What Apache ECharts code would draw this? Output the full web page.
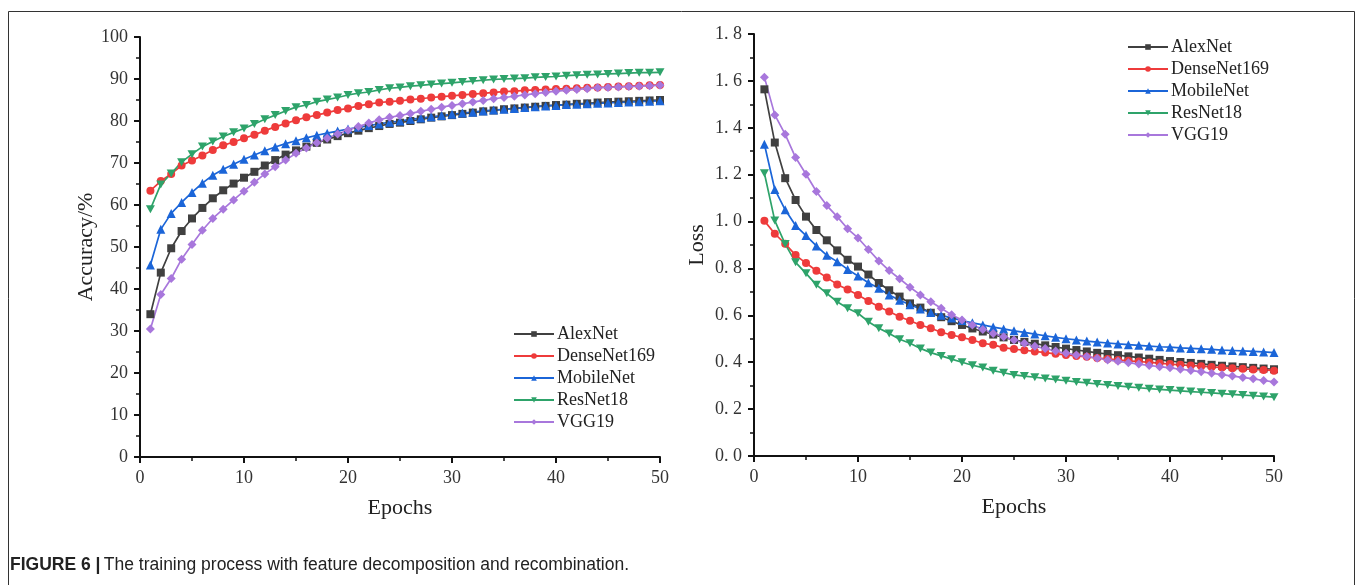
<!DOCTYPE html>
<html>
<head>
<meta charset="utf-8">
<script src="https://cdn.jsdelivr.net/npm/echarts@6/dist/echarts.min.js"></script>
<style>
html,body{margin:0;padding:0;background:#fff;}
#chart{width:1357px;height:585px;}
</style>
</head>
<body>
<div id="chart"></div>
<script>
const epochs = [1,2,3,4,5,6,7,8,9,10,11,12,13,14,15,16,17,18,19,20,21,22,23,24,25,26,27,28,29,30,31,32,33,34,35,36,37,38,39,40,41,42,43,44,45,46,47,48,49,50];
const seriesNames = ['AlexNet','DenseNet169','MobileNet','ResNet18','VGG19'];
const xTicks = [0,10,20,30,40,50];

const accAlexNet = [34.0,43.9,49.7,53.8,56.8,59.3,61.6,63.5,65.1,66.5,67.9,69.4,70.7,72.0,73.0,73.9,74.8,75.6,76.4,77.1,77.7,78.3,78.8,79.3,79.6,80.0,80.4,80.8,81.1,81.4,81.7,82.0,82.3,82.5,82.8,83.0,83.2,83.4,83.6,83.8,83.9,84.1,84.2,84.4,84.5,84.6,84.7,84.8,84.9,85.0];
const accDenseNet169 = [63.4,65.7,67.4,69.4,70.6,71.8,73.1,74.2,75.0,75.9,76.7,77.7,78.6,79.4,80.2,80.9,81.4,82.0,82.6,83.0,83.6,84.0,84.4,84.6,84.8,85.1,85.3,85.6,85.8,86.0,86.2,86.4,86.6,86.8,87.0,87.1,87.3,87.4,87.5,87.6,87.7,87.8,87.9,88.0,88.1,88.2,88.3,88.4,88.5,88.6];
const accMobileNet = [45.7,54.2,58.0,60.6,63.0,65.2,67.1,68.5,69.7,70.9,71.9,72.9,73.8,74.6,75.3,76.0,76.6,77.1,77.6,78.1,78.5,78.9,79.3,79.7,80.0,80.4,80.7,81.0,81.3,81.6,81.9,82.1,82.4,82.6,82.8,83.0,83.2,83.4,83.6,83.7,83.9,84.0,84.1,84.2,84.3,84.4,84.5,84.6,84.7,84.8];
const accResNet18 = [59.0,64.9,67.5,70.2,72.1,73.9,75.1,76.3,77.3,78.2,79.3,80.4,81.4,82.4,83.3,83.8,84.6,85.1,85.6,86.2,86.6,86.9,87.4,87.8,88.0,88.3,88.5,88.7,88.9,89.1,89.3,89.5,89.7,89.9,90.0,90.1,90.2,90.4,90.5,90.6,90.8,90.9,91.0,91.1,91.2,91.3,91.4,91.5,91.5,91.6];
const accVGG19 = [30.5,38.7,42.5,47.1,50.6,54.0,56.8,59.0,61.2,63.3,65.4,67.4,69.1,70.7,72.3,73.6,74.8,75.9,76.9,77.8,78.7,79.5,80.3,80.9,81.3,81.8,82.3,82.8,83.3,83.7,84.1,84.5,84.9,85.3,85.6,85.9,86.2,86.5,86.8,87.1,87.3,87.5,87.7,87.9,88.0,88.1,88.2,88.3,88.4,88.5];

const lossAlexNet = [1.564,1.337,1.185,1.092,1.021,0.964,0.920,0.877,0.837,0.808,0.774,0.738,0.707,0.680,0.651,0.633,0.611,0.592,0.575,0.559,0.544,0.531,0.518,0.506,0.495,0.487,0.479,0.472,0.465,0.458,0.452,0.446,0.440,0.435,0.430,0.425,0.420,0.415,0.410,0.405,0.401,0.397,0.393,0.389,0.385,0.382,0.379,0.376,0.373,0.370];
const lossDenseNet169 = [1.003,0.948,0.905,0.857,0.823,0.790,0.761,0.732,0.710,0.687,0.661,0.637,0.616,0.594,0.577,0.559,0.545,0.528,0.516,0.506,0.495,0.481,0.474,0.462,0.456,0.451,0.446,0.441,0.436,0.431,0.427,0.423,0.418,0.414,0.410,0.406,0.403,0.399,0.396,0.392,0.389,0.386,0.383,0.380,0.377,0.374,0.372,0.369,0.367,0.364];
const lossMobileNet = [1.330,1.137,1.050,0.983,0.940,0.896,0.856,0.829,0.796,0.768,0.739,0.715,0.687,0.664,0.645,0.627,0.612,0.600,0.589,0.578,0.568,0.559,0.550,0.542,0.534,0.527,0.520,0.513,0.506,0.500,0.495,0.490,0.486,0.482,0.478,0.475,0.472,0.469,0.466,0.464,0.461,0.459,0.457,0.455,0.452,0.450,0.448,0.446,0.444,0.441];
const lossResNet18 = [1.206,1.004,0.904,0.826,0.779,0.730,0.694,0.658,0.630,0.609,0.573,0.545,0.523,0.498,0.481,0.459,0.441,0.427,0.413,0.400,0.387,0.377,0.364,0.355,0.346,0.341,0.336,0.331,0.326,0.321,0.316,0.312,0.307,0.303,0.299,0.295,0.291,0.287,0.284,0.281,0.278,0.275,0.272,0.269,0.266,0.263,0.260,0.257,0.254,0.251];
const lossVGG19 = [1.616,1.455,1.372,1.273,1.202,1.128,1.068,1.021,0.969,0.930,0.881,0.832,0.791,0.756,0.720,0.687,0.658,0.630,0.602,0.580,0.559,0.540,0.523,0.509,0.495,0.481,0.468,0.458,0.448,0.438,0.431,0.424,0.417,0.410,0.404,0.398,0.392,0.386,0.381,0.376,0.370,0.365,0.359,0.353,0.347,0.341,0.335,0.329,0.322,0.316];

const colors = ['#404040','#ee3b3b','#1b65d8','#2ea36a','#a877dc'];
const symbols = ['rect','circle','triangle','path://M0,0 L10,0 L5,9 Z','diamond'];
const symbolSizes = [8,8,9,[9,8],9];

const accData = [accAlexNet,accDenseNet169,accMobileNet,accResNet18,accVGG19];
const lossData = [lossAlexNet,lossDenseNet169,lossMobileNet,lossResNet18,lossVGG19];

function pairs(arr){ return epochs.map((e,i)=>[e,arr[i]]); }

const serifFont = '"Liberation Serif","Times New Roman",serif';
const axisColor = '#111';

function makeX(gridIndex){
  return {
    type:'value', gridIndex:gridIndex, min:0, max:50, interval:10,
    name:'Epochs', nameLocation:'middle', nameGap:40,
    nameTextStyle:{fontFamily:serifFont,fontSize:22,color:'#222'},
    axisLine:{show:true,onZero:false,lineStyle:{color:axisColor,width:2}},
    axisTick:{show:true,length:6,inside:false,lineStyle:{color:axisColor,width:2}},
    minorTick:{show:true,splitNumber:2,length:4,lineStyle:{color:axisColor,width:1.5}},
    axisLabel:{margin:12,fontFamily:serifFont,fontSize:18,color:'#333'},
    splitLine:{show:false}
  };
}
function makeY(gridIndex,opts){
  return Object.assign({
    type:'value', gridIndex:gridIndex, nameLocation:'middle',
    nameTextStyle:{fontFamily:serifFont,fontSize:22,color:'#222'},
    axisLine:{show:true,onZero:false,lineStyle:{color:axisColor,width:2}},
    axisTick:{show:true,length:6,inside:false,lineStyle:{color:axisColor,width:2}},
    minorTick:{show:true,splitNumber:2,length:4,lineStyle:{color:axisColor,width:1.5}},
    splitLine:{show:false}
  },opts);
}

const series = [];
seriesNames.forEach((n,i)=>{
  series.push({
    name:n, type:'line', xAxisIndex:0, yAxisIndex:0, data:pairs(accData[i]),
    symbol:symbols[i], symbolSize:symbolSizes[i], showAllSymbol:true,
    lineStyle:{color:colors[i],width:1.7}, itemStyle:{color:colors[i]},
    emphasis:{disabled:true}, animation:false
  });
});
seriesNames.forEach((n,i)=>{
  series.push({
    name:n, type:'line', xAxisIndex:1, yAxisIndex:1, data:pairs(lossData[i]),
    symbol:symbols[i], symbolSize:symbolSizes[i], showAllSymbol:true,
    lineStyle:{color:colors[i],width:1.7}, itemStyle:{color:colors[i]},
    emphasis:{disabled:true}, animation:false
  });
});

const legendBase = {
  orient:'vertical', data:seriesNames, itemWidth:40, itemHeight:7, itemGap:4,
  textStyle:{fontFamily:serifFont,fontSize:18,color:'#222',lineHeight:18, padding:[0,0,0,-2]},
  selectedMode:false, padding:0
};

const chart = echarts.init(document.getElementById('chart'),null,{renderer:'canvas'});
chart.setOption({
  animation:false,
  backgroundColor:'#fff',
  grid:[
    {left:140,top:37,width:520,height:420},
    {left:754,top:34,width:520,height:422}
  ],
  xAxis:[makeX(0),makeX(1)],
  yAxis:[
    makeY(0,{min:0,max:100,interval:10,name:'Accuracy/%',nameGap:41,
      axisLabel:{margin:12,fontFamily:serifFont,fontSize:18,color:'#333'}}),
    makeY(1,{min:0,max:1.8,interval:0.2,name:'Loss',nameGap:46,
      axisLabel:{margin:12,fontFamily:serifFont,fontSize:18,color:'#333',
        formatter:function(v){return v.toFixed(1).replace('.', '. ');}}})
  ],
  legend:[
    Object.assign({left:513,top:325},legendBase),
    Object.assign({left:1127,top:38},legendBase)
  ],
  graphic:[
    {type:'rect',shape:{x:8.5,y:11.5,width:1346,height:620},style:{fill:'none',stroke:'#333',lineWidth:1},silent:true,z:-1},
    {type:'text',left:10,top:556,style:{
      text:'{b|FIGURE 6 |} {r|The training process with feature decomposition and recombination.}',
      rich:{
        b:{fontFamily:'"Liberation Sans",Arial,sans-serif',fontWeight:'bold',fontSize:17.5,fill:'#222'},
        r:{fontFamily:'"Liberation Sans",Arial,sans-serif',fontSize:17.5,fill:'#222'}
      }
    }}
  ],
  series:series
});
</script>
</body>
</html>
